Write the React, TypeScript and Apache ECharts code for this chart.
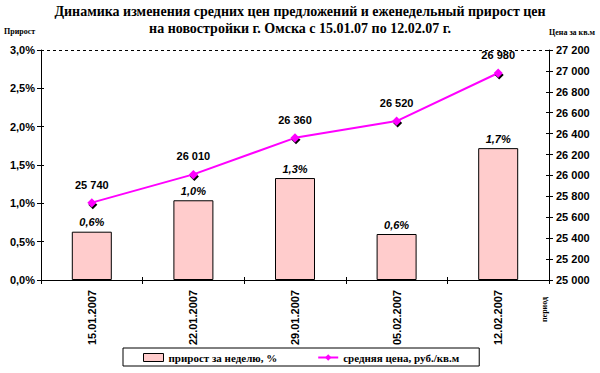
import React, { useEffect, useRef } from "react";
import * as echarts from "echarts";

const categories = ["15.01.2007", "22.01.2007", "29.01.2007", "05.02.2007", "12.02.2007"];
const growthValues = [0.63, 1.04, 1.33, 0.6, 1.72];
const priceValues = [25740, 26010, 26360, 26520, 26980];
const titleLines = [
  "Динамика изменения средних цен предложений и еженедельный прирост цен",
  "на новостройки г. Омска с 15.01.07 по 12.02.07 г.",
];
const seriesNames = ["прирост за неделю, %", "средняя цена, руб./кв.м"];

const fmtPct = (v: number) => v.toFixed(1).replace(".", ",") + "%";
const fmtPrice = (v: number) => {
  const s = Math.round(v).toString();
  return s.slice(0, s.length - 3) + " " + s.slice(s.length - 3);
};

const SERIF = "'Liberation Serif', 'Times New Roman', serif";
const SANS = "'Liberation Sans', Arial, sans-serif";
const NARROW = "'Liberation Sans Narrow', 'Arial Narrow', 'Liberation Sans', sans-serif";

export default function App() {
  const ref = useRef<HTMLDivElement>(null);
  useEffect(() => {
    document.body.style.margin = "0";
    if (!ref.current) return;
    const chart = echarts.init(ref.current, null, { renderer: "svg" });
    const axisFont = { fontFamily: SANS, fontWeight: "bold" as const, fontSize: 11, color: "#000" };
    chart.setOption({
      animation: false,
      backgroundColor: "#fff",
      title: {
        text: titleLines.join("\n"),
        left: "center",
        top: -2,
        textStyle: {
          fontFamily: SERIF,
          fontWeight: "bold",
          fontSize: 14,
          lineHeight: 17,
          color: "#000",
        },
      },
      grid: { left: 41, right: 51, top: 50, bottom: 93 },
      legend: {
        left: 123,
        top: 348,
        borderColor: "#000",
        borderWidth: 1,
        padding: [4, 20, 3, 20],
        itemGap: 40,
        itemWidth: 20,
        itemHeight: 8,
        textStyle: {
          fontFamily: SERIF,
          fontWeight: "bold",
          fontSize: 11,
          color: "#000",
        },
        data: [
          { name: seriesNames[0], icon: "rect", itemStyle: { color: "#FFCCCC", borderColor: "#000", borderWidth: 1 } },
          { name: seriesNames[1] },
        ],
      },
      xAxis: [
        {
          type: "category",
          data: categories,
          axisLine: { lineStyle: { color: "#000", width: 1 } },
          axisTick: { show: true, length: 4, lineStyle: { color: "#000" } },
          axisLabel: { ...axisFont, rotate: 90, margin: 10 },
        },
        {
          type: "category",
          data: categories,
          position: "bottom",
          axisLine: { show: false },
          axisTick: { show: true, inside: true, length: 3, lineStyle: { color: "#000" } },
          axisLabel: { show: false },
        },
      ],
      yAxis: [
        {
          type: "value",
          min: 0,
          max: 3,
          interval: 0.5,
          position: "left",
          axisLine: { show: true, lineStyle: { color: "#000" } },
          axisTick: { show: true, length: 4, lineStyle: { color: "#000" } },
          splitLine: { show: false },
          axisLabel: { ...axisFont, margin: 6, formatter: (v: number) => fmtPct(v) },
        },
        {
          type: "value",
          min: 25000,
          max: 27200,
          interval: 200,
          position: "right",
          axisLine: { show: true, lineStyle: { color: "#000" } },
          axisTick: { show: true, length: 4, lineStyle: { color: "#000" } },
          splitLine: { show: false },
          axisLabel: { ...axisFont, fontFamily: NARROW, fontSize: 11, margin: 7, formatter: (v: number) => fmtPrice(v) },
        },
        {
          type: "value",
          min: 0,
          max: 3,
          interval: 0.5,
          position: "left",
          axisLine: { show: false },
          axisTick: { show: true, inside: true, length: 3, lineStyle: { color: "#000" } },
          splitLine: { show: false },
          axisLabel: { show: false },
        },
        {
          type: "value",
          min: 25000,
          max: 27200,
          interval: 200,
          position: "right",
          axisLine: { show: false },
          axisTick: { show: true, inside: true, length: 3, lineStyle: { color: "#000" } },
          splitLine: { show: false },
          axisLabel: { show: false },
        },
      ],
      series: [
        {
          name: seriesNames[0],
          type: "bar",
          yAxisIndex: 0,
          data: growthValues,
          barWidth: 40,
          itemStyle: { color: "#FFCCCC", borderColor: "#000", borderWidth: 1 },
          label: {
            show: true,
            position: "top",
            distance: 4,
            fontFamily: SANS,
            fontWeight: "bold",
            fontStyle: "italic",
            fontSize: 11,
            color: "#000",
            formatter: (p: any) => fmtPct(p.value),
          },
          markLine: {
            silent: true,
            symbol: "none",
            label: { show: false },
            lineStyle: { type: [3, 3], color: "#000", width: 1 },
            data: [{ yAxis: 3 }],
          },
          z: 2,
        },
        {
          name: seriesNames[1],
          type: "line",
          yAxisIndex: 1,
          data: priceValues,
          symbol: "diamond",
          symbolSize: 9,
          lineStyle: { color: "#FF00FF", width: 2 },
          itemStyle: { color: "#FF00FF", shadowColor: "#000", shadowOffsetX: 1, shadowOffsetY: 2, shadowBlur: 0 },
          label: {
            show: true,
            position: "top",
            distance: 8,
            fontFamily: SANS,
            fontWeight: "bold",
            fontSize: 11,
            color: "#000",
            formatter: (p: any) => fmtPrice(p.value),
          },
          z: 3,
        },
      ],
      graphic: [
        {
          type: "text",
          left: 4,
          top: 27,
          style: { text: "Прирост", font: `bold 8px ${SERIF}`, fill: "#000" },
        },
        {
          type: "text",
          right: 5,
          top: 28,
          style: { text: "Цена за кв.м", font: `bold 8px ${SERIF}`, fill: "#000" },
        },
        {
          type: "text",
          x: 540,
          y: 322,
          rotation: Math.PI / 2,
          style: { text: "период", font: `bold 8px ${SERIF}`, fill: "#000" },
        },
      ],
    });
    return () => chart.dispose();
  }, []);
  return <div ref={ref} style={{ width: 600, height: 373 }} />;
}
